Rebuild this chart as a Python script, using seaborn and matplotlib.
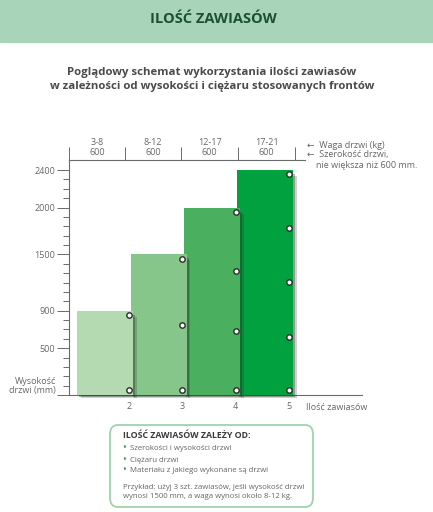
import matplotlib
matplotlib.use("Agg")
import matplotlib.pyplot as plt
from matplotlib.patches import Rectangle, FancyBboxPatch
import seaborn as sns
import pandas as pd

# Data
hinge_counts = [2, 3, 4, 5]
door_heights = [900, 1500, 2000, 2400]
door_weights = ["3-8", "8-12", "12-17", "17-21"]
door_widths = ["600", "600", "600", "600"]
bar_colors = ["#b3dab0", "#86c68a", "#4aaf5f", "#00a13e"]
hinge_heights = [
    [50, 850],
    [50, 750, 1450],
    [50, 683, 1320, 1955],
    [50, 622, 1202, 1778, 2354],
]
y_major = [0, 500, 900, 1500, 2000, 2400]
y_major_labels = ["", "500", "900", "1500", "2000", "2400"]

W, H = 433, 512
sns.set_theme(style="white")
plt.rcParams["font.family"] = ["Open Sans", "DejaVu Sans"]

fig = plt.figure(figsize=(W / 100, H / 100), dpi=100)


def fx(px):
    return px / W


def fy(py):
    return 1 - py / H


# header band
fig.patches.append(Rectangle((0, fy(42)), 1, 42 / H, transform=fig.transFigure,
                             color="#a8d5b9", zorder=0))
fig.text(fx(213), fy(19), "ILOŚĆ ZAWIASÓW", ha="center", va="center",
         fontsize=10.5, fontweight="bold", color="#1c4f33")
fig.text(fx(212), fy(79.5), "Poglądowy schemat wykorzystania ilości zawiasów\n"
         "w zależności od wysokości i ciężaru stosowanych frontów",
         ha="center", va="center", fontsize=8.2, fontweight="bold",
         color="#4a4a4a", linespacing=1.3)

# main axes
ax = fig.add_axes([fx(69), 1 - 395 / H, (362 - 69) / W, (395 - 160) / H])
ax.set_xlim(0.874, 6.37)
ax.set_ylim(0, 2507)

bar_w = 1.05
for i, (n, h, c) in enumerate(zip(hinge_counts, door_heights, bar_colors)):
    z = 10 - 2 * i
    left = n - 0.97
    # soft shadow: two layers
    ax.bar(left + 0.07, h - 35, width=bar_w, bottom=-30, align="edge",
           color="#1e3324", alpha=0.22, zorder=z - 1, clip_on=False, linewidth=0)
    ax.bar(left + 0.04, h - 25, width=bar_w, bottom=-18, align="edge",
           color="#1e3324", alpha=0.35, zorder=z - 1, clip_on=False, linewidth=0)
    ax.bar(left, h, width=bar_w, align="edge", color=c, zorder=z, linewidth=0)

hinges = pd.DataFrame(
    [(n, y) for n, ys in zip(hinge_counts, hinge_heights) for y in ys],
    columns=["count", "height"],
)
sns.scatterplot(data=hinges, x="count", y="height", ax=ax, s=15, marker="o",
                color="white", edgecolor="#2b2b2b", linewidth=1.0, zorder=20)

# spines
ax.spines["right"].set_visible(False)
for side in ["left", "bottom", "top"]:
    ax.spines[side].set_color("#6a6a6a")
    ax.spines[side].set_linewidth(0.8)
ax.spines["top"].set_bounds(0.874, 5.30)

# y axis
ax.set_yticks(y_major)
ax.set_yticklabels(y_major_labels)
ax.set_yticks(range(0, 2500, 100), minor=True)
ax.tick_params(axis="y", which="major", length=8.5, width=0.7, color="#6a6a6a",
               labelsize=6.5, labelcolor="#666666", pad=1.5, left=True)
ax.tick_params(axis="y", which="minor", length=4, width=0.7, color="#6a6a6a",
               left=True)
ax.text(-0.045, 0, "Wysokość\ndrzwi (mm)", transform=ax.get_yaxis_transform(),
        ha="right", va="bottom", fontsize=6.5, color="#666666", linespacing=1.05)

# x axis
ax.set_xticks(hinge_counts)
ax.set_xticklabels([str(n) for n in hinge_counts])
ax.tick_params(axis="x", which="major", length=0, labelsize=6.5,
               labelcolor="#666666", pad=5)
ax.set_xlabel("")
ax.set_ylabel("")
ax.text(5.32, -90, "Ilość zawiasów", ha="left", va="top", fontsize=6.5,
        color="#666666")

# top axis: door weight and width
sep = [0.874, 1.925, 2.976, 4.045, 5.114]
mids = [(a + b) / 2 for a, b in zip(sep[:-1], sep[1:])]
top = ax.secondary_xaxis("top")
top.spines["top"].set_visible(False)
top.set_xticks(sep)
top.set_xticklabels([""] * len(sep))
top.set_xticks(mids, minor=True)
top.set_xticklabels([f"{w}\n{d}" for w, d in zip(door_weights, door_widths)],
                    minor=True)
top.tick_params(axis="x", which="major", length=9.5, width=0.7,
                color="#6a6a6a", direction="out")
top.tick_params(axis="x", which="minor", length=0, labelsize=6.5,
                labelcolor="#666666", pad=2)
for lbl in top.get_xticklabels(minor=True):
    lbl.set_linespacing(1.15)

fig.text(fx(307), fy(145), "←  Waga drzwi (kg)", ha="left", va="center",
         fontsize=6.5, color="#666666")
fig.text(fx(307), fy(155), "←  Szerokość drzwi,", ha="left", va="center",
         fontsize=6.5, color="#666666")
fig.text(fx(316), fy(166), "nie większa niż 600 mm.", ha="left", va="center",
         fontsize=6.5, color="#666666")

# info box
box = FancyBboxPatch((fx(110), fy(507)), fx(313 - 110), (507 - 425) / H,
                     boxstyle="round,pad=0,rounding_size=0.018",
                     transform=fig.transFigure, facecolor="white",
                     edgecolor="#9fd3ad", linewidth=1.3)
fig.patches.append(box)
fig.text(fx(123), fy(436), "ILOŚĆ ZAWIASÓW ZALEŻY OD:", ha="left",
         va="center", fontsize=6.3, fontweight="bold", color="#3a3a3a")
bullets = ["Szerokości i wysokości drzwi", "Ciężaru drzwi",
           "Materiału z jakiego wykonane są drzwi"]
for k, txt in enumerate(bullets):
    yy = fy(449 + 11 * k)
    fig.text(fx(122), yy, "•", ha="left", va="center", fontsize=7,
             color="#27a34f")
    fig.text(fx(130), yy, txt, ha="left", va="center", fontsize=5.6,
             color="#666666")
fig.text(fx(123), fy(492), "Przykład: użyj 3 szt. zawiasów, jeśli wysokość drzwi\n"
         "wynosi 1500 mm, a waga wynosi około 8-12 kg.", ha="left",
         va="center", fontsize=5.6, color="#666666", linespacing=1.3)

fig.savefig("out.png", dpi=100)
